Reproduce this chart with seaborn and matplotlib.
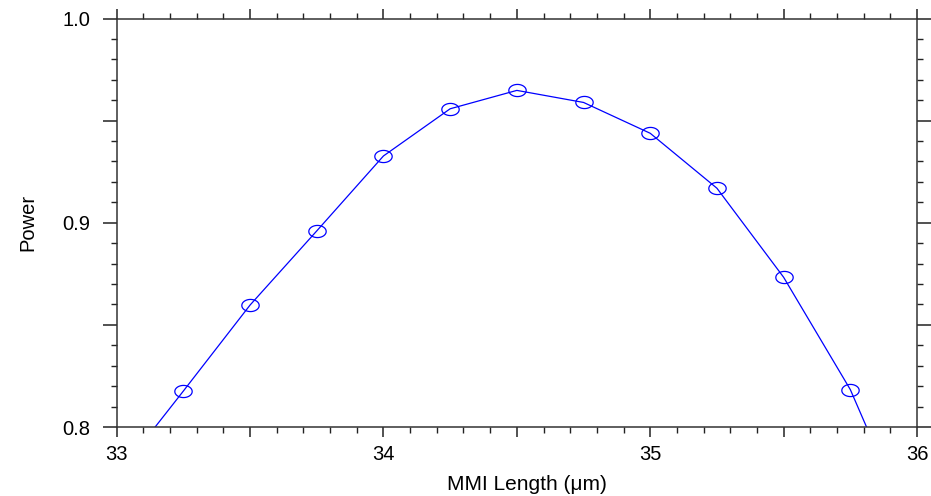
import numpy as np
import pandas as pd
import matplotlib
matplotlib.use("Agg")
import matplotlib.pyplot as plt
from matplotlib.path import Path
from matplotlib.ticker import MultipleLocator, FuncFormatter
import seaborn as sns

# MMI length sweep (µm) and transmitted power
mmi_length = [33.0, 33.25, 33.5, 33.75, 34.0, 34.25, 34.5, 34.75, 35.0, 35.25, 35.5, 35.75, 36.0]
power = [0.776, 0.8176, 0.8597, 0.896, 0.9327, 0.9558, 0.9648, 0.9589, 0.9438, 0.9169, 0.8733, 0.8183, 0.743]

df = pd.DataFrame({"length": mmi_length, "power": power})

sns.set_theme(style="ticks")
plt.rcParams["font.family"] = ["Liberation Sans", "DejaVu Sans"]

fig = plt.figure(figsize=(9.31, 4.96), dpi=100)
ax = fig.add_axes([0.1253, 0.1391, 0.985 - 0.1253, 0.9627 - 0.1391])

# open elliptical marker
t = np.linspace(0, 2 * np.pi, 60)
ellipse = Path(np.column_stack([np.cos(t), 0.7 * np.sin(t)]), closed=True)

blue = "#0000ff"
sns.lineplot(data=df, x="length", y="power", ax=ax, color=blue, lw=0.9)
sns.lineplot(data=df, x="length", y="power", ax=ax, color=blue, lw=0,
             marker=ellipse, markersize=12.5, markerfacecolor="none",
             markeredgecolor=blue, markeredgewidth=0.9)

ax.set_xlim(33, 36)
ax.set_ylim(0.8, 1.0)

ax.xaxis.set_major_locator(MultipleLocator(0.5))
ax.xaxis.set_minor_locator(MultipleLocator(0.1))
ax.yaxis.set_major_locator(MultipleLocator(0.05))
ax.yaxis.set_minor_locator(MultipleLocator(0.01))


def xfmt(v, pos):
    return f"{v:.0f}" if abs(v - round(v)) < 1e-6 else ""


def yfmt(v, pos):
    return f"{v:.1f}" if abs(v * 10 - round(v * 10)) < 1e-6 else ""


ax.xaxis.set_major_formatter(FuncFormatter(xfmt))
ax.yaxis.set_major_formatter(FuncFormatter(yfmt))

for side in ["top", "right", "bottom", "left"]:
    ax.spines[side].set_visible(True)
    ax.spines[side].set_color("#333333")
    ax.spines[side].set_linewidth(1.1)

ax.tick_params(axis="both", which="both", direction="out", colors="#222222",
               top=True, right=True, labeltop=False, labelright=False)
ax.tick_params(axis="x", which="major", length=7, width=1.1, pad=6, labelsize=14.5)
ax.tick_params(axis="x", which="minor", length=4, width=1.0)
ax.tick_params(axis="y", which="major", length=10, width=1.1, pad=9, labelsize=14.5)
ax.tick_params(axis="y", which="minor", length=4.5, width=1.0)
ax.tick_params(labelcolor="black")

ax.set_xlabel("MMI Length (μm)", fontsize=15, color="black")
ax.xaxis.label.set_verticalalignment("center")
ax.xaxis.set_label_coords(0.513, -0.14)
ax.set_ylabel("Power", fontsize=14.5, labelpad=18, color="black")

fig.savefig("out.png", dpi=100)
